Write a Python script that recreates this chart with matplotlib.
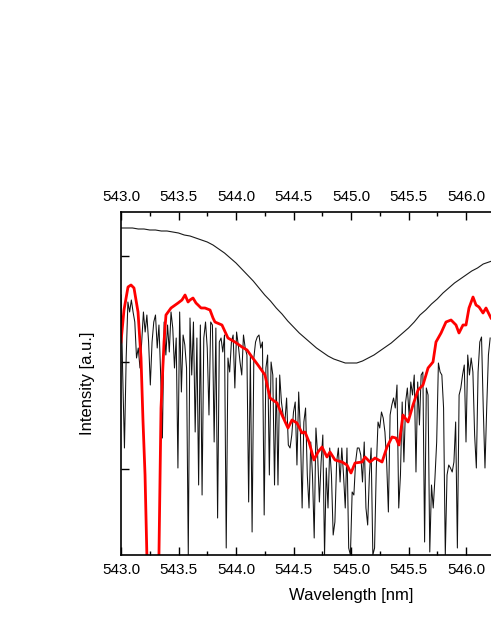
import numpy as np
import matplotlib
matplotlib.use('Agg')
import matplotlib.pyplot as plt
from matplotlib.ticker import MultipleLocator, FixedLocator

plt.rcParams['font.family'] = ['Liberation Sans', 'DejaVu Sans']

# measured spectrum, sampled every 0.015 nm starting at 543.0 nm
meas_start = 543.0
meas_step = 0.015
meas_vals = [
    260, 180, 107, 197, 253, 243, 255, 243, 233, 197, 207, 187, 213, 243, 223, 240,
    213, 170, 213, 233, 240, 207, 230, 180, 117, 233, 200, 230, 203, 243, 227, 187,
    217, 87, 243, 163, 220, 210, 187, 0, 237, 180, 233, 123, 217, 70, 230, 60,
    217, 233, 207, 140, 233, 230,
    113, 227, 37, 213, 217, 203, 220, 7, 197, 183, 213, 220, 167, 223, 210, 193,
    180, 220, 207, 200, 53, 200, 23, 197, 213, 218, 220, 207, 213, 40, 187, 200,
    80, 193, 180, 70, 177, 70, 180, 153, 140, 133, 157, 110, 107, 120, 143, 153,
    90, 163, 123, 47, 133,
    147, 80, 47, 113, 80, 17, 127, 100, 53, 93, 120, 0, 87, 47, 107, 80,
    20, 33, 93, 107, 73, 107, 80, 47, 107, 7, 0, 63, 60, 93, 107, 107,
    100, 73, 113, 47, 30, 80, 107, 0, 7, 87, 133, 127, 143, 137, 123, 93,
    43, 140, 150, 157, 147, 170,
    47, 80, 153, 93, 153, 167, 140, 173, 160, 180, 83, 173, 130, 180, 183, 13,
    167, 160, 3, 70, 47, 77, 113, 192, 183, 180, 147, 0, 80, 90, 87, 83,
    93, 133, 7, 160, 167, 180, 190, 113, 200, 180, 197, 183, 120, 87, 183, 213,
    218, 147, 87, 147, 200, 217,
]
meas_wl = meas_start + meas_step * np.arange(len(meas_vals))

# smoothed / averaged spectrum (red)
avg_wl = [543.000, 543.026, 543.061, 543.087, 543.113, 543.148, 543.174, 543.191,
          543.209, 543.226, 543.243, 543.313, 543.330, 543.348, 543.374, 543.391,
          543.435, 543.496, 543.530, 543.557, 543.583, 543.600, 543.626, 543.652,
          543.670, 543.696, 543.730, 543.774, 543.800, 543.817, 543.878, 543.930,
          543.991, 544.052, 544.096, 544.139, 544.191, 544.252, 544.296, 544.357,
          544.400, 544.452, 544.487, 544.530, 544.574, 544.600, 544.635, 544.678,
          544.713, 544.748, 544.791, 544.817, 544.861, 544.922, 544.965, 545.000,
          545.035, 545.096, 545.122, 545.165, 545.209, 545.270, 545.313, 545.357,
          545.391, 545.417, 545.452, 545.496, 545.539, 545.583, 545.626, 545.670,
          545.713, 545.739, 545.783, 545.826, 545.870, 545.913, 545.939, 545.974,
          546.000, 546.026, 546.061, 546.087, 546.113, 546.148, 546.174, 546.217]
avg_vals = [213, 245, 268, 270, 267, 243, 197, 135,
            80, -5, -85, -65, 0, 147, 213, 240,
            247, 252, 255, 260, 253, 255, 257, 252,
            250, 247, 247, 245, 237, 233, 230, 217,
            213, 208, 205, 198, 190, 180, 157, 152,
            140, 127, 135, 132, 122, 123, 113, 95,
            103, 108, 98, 103, 95, 93, 90, 82,
            92, 93, 98, 93, 97, 93, 108, 118,
            117, 110, 140, 133, 150, 165, 170, 187,
            193, 213, 222, 233, 235, 230, 222, 230,
            230, 247, 258, 250, 248, 242, 247, 237]

# model line profile (thin black), every 0.05 nm
model_wl = [543.00, 543.05, 543.10, 543.15, 543.20, 543.25, 543.30, 543.35, 543.40,
            543.45, 543.50, 543.55, 543.60, 543.65, 543.70, 543.75, 543.80, 543.85,
            543.90, 543.95, 544.00, 544.05, 544.10, 544.15, 544.20, 544.25, 544.30,
            544.35, 544.40, 544.45, 544.50, 544.55, 544.60, 544.65, 544.70, 544.75,
            544.80, 544.85, 544.90, 544.95, 545.00, 545.05, 545.10, 545.15, 545.20,
            545.25, 545.30, 545.35, 545.40, 545.45, 545.50, 545.55, 545.60, 545.65,
            545.70, 545.75, 545.80, 545.85, 545.90, 545.95, 546.00, 546.05, 546.10,
            546.15, 546.20, 546.25]
model_vals = [327, 327, 327, 326, 326, 325, 325, 324, 324,
              323, 322, 320, 319, 317, 315, 313, 310, 306,
              302, 297, 292, 286, 280, 274, 267, 260, 254,
              247, 241, 234, 228, 222, 217, 212, 207, 203,
              199, 196, 194, 192, 192, 192, 194, 197, 200,
              204, 208, 212, 217, 222, 227, 233, 240, 245,
              251, 256, 262, 267, 272, 276, 280, 284, 287,
              291, 293, 295]

x_ticks = [543.0, 543.5, 544.0, 544.5, 545.0, 545.5, 546.0]
y_ticks = [86, 193, 299]

fig = plt.figure(figsize=(4.91, 6.35), dpi=100)
# the frame runs on past the right edge of the picture (543 - 547 nm)
ax = fig.add_axes([121 / 491, 80 / 635, 460 / 491, 343 / 635])

ax.plot(model_wl, model_vals, color='#1a1a1a', lw=0.8)
ax.plot(meas_wl, meas_vals, color='#111111', lw=0.75)
ax.plot(avg_wl, avg_vals, color='#ff0000', lw=2.0)

ax.set_xlim(543.0, 547.0)
ax.set_ylim(0, 343)

ax.xaxis.set_major_locator(FixedLocator(x_ticks))
ax.xaxis.set_minor_locator(MultipleLocator(0.25))
ax.yaxis.set_major_locator(FixedLocator(y_ticks))
ax.xaxis.set_major_formatter(plt.FormatStrFormatter('%.1f'))

ax.tick_params(axis='x', which='both', direction='in', top=True, bottom=True,
               labeltop=True, labelbottom=True, labelsize=11, pad=6)
ax.tick_params(axis='x', which='major', length=6, width=1)
ax.tick_params(axis='x', which='minor', length=3, width=1)
ax.tick_params(axis='y', which='major', direction='in', length=6, width=1,
               labelleft=False, right=False)

for s in ['left', 'top', 'bottom', 'right']:
    ax.spines[s].set_linewidth(1.2)

ax.set_xlabel('Wavelength [nm]', fontsize=12, labelpad=8)
ax.set_ylabel('Intensity [a.u.]', fontsize=12, labelpad=19)

fig.savefig('out.png', dpi=100)
